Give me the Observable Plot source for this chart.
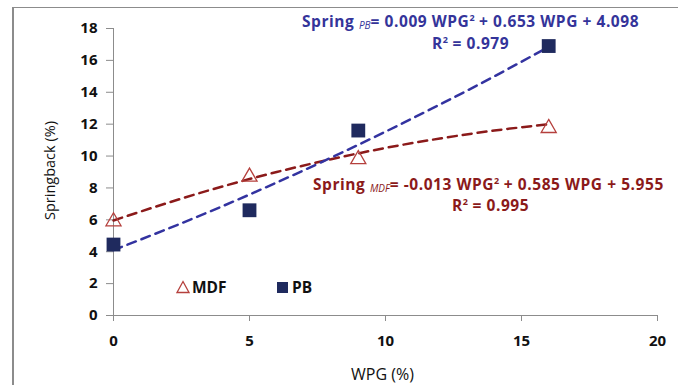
<!DOCTYPE html>
<html>
<head>
<meta charset="utf-8">
<script src="https://cdn.jsdelivr.net/npm/d3@7"></script>
<script src="https://cdn.jsdelivr.net/npm/@observablehq/plot@0.6"></script>
<style>
  html, body { margin: 0; padding: 0; background: #fff; }
  #wrap { position: relative; width: 678px; height: 385px; overflow: hidden; font-family: "Open Sans", sans-serif; }
  #frame { position: absolute; left: 12px; top: 7px; width: 700px; height: 400px; border-left: 2px solid #8c8c8c; border-top: 1px solid #8c8c8c; box-sizing: border-box; }
  .eq { position: absolute; font-weight: bold; font-size: 15.5px; white-space: nowrap; letter-spacing: 0.55px; }
  .eq sub { font-size: 10px; font-style: italic; font-weight: normal; vertical-align: -2px; letter-spacing: 0; }
  .eq sup { font-size: 9px; vertical-align: 6px; letter-spacing: 0; }
  .leg { position: absolute; font-size: 15.5px; font-weight: bold; color: #111; display: flex; align-items: center; }
  .leg svg { margin-right: 2px; }
  .axlab { position: absolute; font-size: 14px; color: #111; white-space: nowrap; }
</style>
</head>
<body>
<div id="wrap"><div id="frame"></div></div>
<script>
// Data
const wpg = [0, 5, 9, 16];
const mdf = [5.9, 8.7, 9.8, 11.75];
const pb = [4.45, 6.6, 11.6, 16.9];
// Trend lines (quadratic fits shown in the annotations)
const trendX = [0, 2, 4, 6, 8, 10, 12, 14, 16];
const trendMDF = [5.96, 7.07, 8.09, 9.00, 9.80, 10.51, 11.10, 11.60, 11.99];
const trendPB = [4.10, 5.44, 6.85, 8.34, 9.90, 11.53, 13.23, 15.00, 16.85];
const xTicks = [0, 5, 10, 15, 20];
const yTicks = [0, 2, 4, 6, 8, 10, 12, 14, 16, 18];

const pts = (ys) => wpg.map((x, i) => ({x, y: ys[i]}));
const tr = (ys) => trendX.map((x, i) => ({x, y: ys[i]}));

const chart = Plot.plot({
  width: 678,
  height: 385,
  marginLeft: 113,
  marginRight: 21,
  marginTop: 28,
  marginBottom: 70,
  style: {fontFamily: "'Open Sans', sans-serif", background: "transparent", overflow: "visible"},
  x: {domain: [0, 20], ticks: xTicks, label: null},
  y: {domain: [0, 18], ticks: yTicks, label: null},
  marks: [
    Plot.ruleY([0], {stroke: "#8c8c8c", strokeWidth: 1}),
    Plot.ruleX([0], {stroke: "#8c8c8c", strokeWidth: 1}),
    Plot.axisX({ticks: xTicks, tickSize: 6, tickPadding: 14, stroke: "#8c8c8c", fontSize: 15, fontWeight: "bold", fill: "#111", tickFormat: d3.format("d")}),
    Plot.axisY({ticks: yTicks, tickSize: 7, tickPadding: 9, stroke: "#8c8c8c", fontSize: 15, fontWeight: "bold", fill: "#111", tickFormat: d3.format("d")}),
    Plot.line(tr(trendMDF), {x: "x", y: "y", stroke: "#8b1a1a", strokeWidth: 2.5, strokeDasharray: "9,6", curve: "natural"}),
    Plot.line(tr(trendPB), {x: "x", y: "y", stroke: "#3333a0", strokeWidth: 2.5, strokeDasharray: "9,6", curve: "natural"}),
    Plot.dot(pts(mdf), {x: "x", y: "y", symbol: "triangle", r: 5.6, fill: "white", fillOpacity: 0, stroke: "#b5403d", strokeWidth: 1.3}),
    Plot.dot(pts(pb), {x: "x", y: "y", symbol: "square", r: 7.8, fill: "#1f2a5e", stroke: "none"})
  ]
});
document.getElementById("wrap").appendChild(chart);
chart.style.position = "absolute";
chart.style.left = "0px";
chart.style.top = "0px";

const wrap = document.getElementById("wrap");
function addHTML(html) { wrap.insertAdjacentHTML("beforeend", html); }

addHTML('<div class="eq" style="left:302px;top:10px;color:#34349a">Spring <sub>PB</sub>= 0.009 WPG<sup>2</sup> + 0.653 WPG + 4.098</div>');
addHTML('<div class="eq" style="left:432px;top:32px;color:#34349a">R<sup>2</sup> = 0.979</div>');
addHTML('<div class="eq" style="left:313px;top:173px;color:#8b1a1a">Spring <sub>MDF</sub>= -0.013 WPG<sup>2</sup> + 0.585 WPG + 5.955</div>');
addHTML('<div class="eq" style="left:452px;top:194px;color:#8b1a1a">R<sup>2</sup> = 0.995</div>');

addHTML('<div class="leg" style="left:176px;top:276px"><svg width="14" height="14"><path d="M7,1.5 L13,12.5 L1,12.5 Z" fill="none" stroke="#b5403d" stroke-width="1.3"/></svg>MDF</div>');
addHTML('<div class="leg" style="left:276px;top:276px"><svg width="14" height="14"><rect x="1" y="2" width="11" height="11" fill="#1f2a5e"/></svg>PB</div>');

addHTML('<div class="axlab" style="left:351px;top:363px;font-size:16px">WPG (%)</div>');
addHTML('<div class="axlab" style="left:-16px;top:161px;width:130px;text-align:center;transform:rotate(-90deg);font-size:14.5px">Springback (%)</div>');
</script>
</body>
</html>
